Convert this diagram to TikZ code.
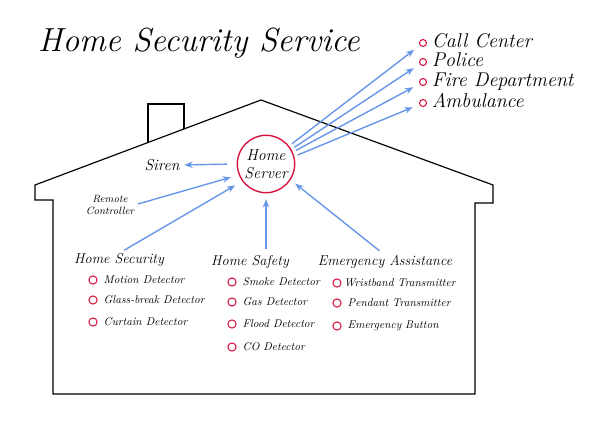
\documentclass[tikz,border=0pt]{standalone}
\usetikzlibrary{positioning,arrows.meta}
\definecolor{arrowblue}{RGB}{104,150,232}
\definecolor{ringred}{RGB}{214,22,64}
\begin{document}
\begin{tikzpicture}[x=0.03cm,y=-0.03cm,
    title/.style={font=\itshape\fontsize{28.5}{32}\selectfont, inner sep=0pt, anchor=west},
    service/.style={font=\itshape\fontsize{17}{19}\selectfont, inner sep=0pt, text height=10.5pt, text depth=2.5pt},
    head/.style={font=\itshape\fontsize{12.2}{14}\selectfont, inner sep=0pt},
    item/.style={font=\itshape\fontsize{9.6}{11}\selectfont, inner sep=0pt},
    dot/.style={circle, draw=ringred, line width=0.9pt, minimum size=7pt, inner sep=0pt},
    smalldot/.style={dot, minimum size=6pt},
    arr/.style={draw=arrowblue, line width=1.2pt, -{Stealth[length=7pt,width=5.5pt]}, shorten >=5pt, shorten <=3pt}]
    \useasboundingbox (0,0) rectangle (600,431);
    % house
    \draw[line width=1pt] (53,394) -- (53,200) -- (35,200) -- (35,185) -- (261,100)
        -- (493,185) -- (493,203) -- (475,203) -- (475,394) -- cycle;
    \draw[line width=1pt] (148,142.5) -- (148,104) -- (184,104) -- (184,129);
    \node[title] (ttl) at (38,43) {Home Security Service};
    % server
    \node[circle, draw=ringred, line width=1.2pt, minimum size=49pt, inner sep=0pt,
        align=center, font=\itshape\fontsize{13.5}{15}\selectfont] (srv) at (266,164) {Home\\Server};
    % services outside
    \node[smalldot] (cc) at (423,43) {};
    \node[smalldot] (pol) at (423,62) {};
    \node[smalldot] (fire) at (423,82) {};
    \node[smalldot] (amb) at (423,103) {};
    \node[service, right=4pt of cc] (cct) {Call Center};
    \node[service, right=4pt of pol] (polt) {Police};
    \node[service, right=4pt of fire] (firet) {Fire Department};
    \node[service, right=4pt of amb] (ambt) {Ambulance};
    \draw[arr, shorten >=6pt] (srv.38) -- (cc);
    \draw[arr, shorten >=6pt] (srv.30) -- (pol);
    \draw[arr, shorten >=6pt] (srv.24) -- (fire);
    \draw[arr, shorten >=6pt] (srv.15) -- (amb);
    % siren and remote
    \node[head, font=\itshape\fontsize{13.5}{15}\selectfont] (siren) at (162,165) {Siren};
    \draw[arr, shorten <=8pt, shorten >=4pt] (srv.west) -- (siren.east);
    \node[item, font=\itshape\fontsize{9}{9.5}\selectfont, align=center] (remote) at (110,205) {Remote\\Controller};
    \draw[arr, shorten >=7pt] (remote.east) -- (srv.202);
    % groups
    \node[head] (hsec) at (119,260) {Home Security};
    \node[head] (hsaf) at (250,262) {Home Safety};
    \node[head] (emer) at (385,262) {Emergency Assistance};
    \draw[arr, shorten >=7pt, shorten <=5pt] (hsec.north) -- (srv.216);
    \draw[arr, shorten <=5pt] (hsaf.north -| srv.south) -- (srv.south);
    \draw[arr, shorten <=6pt] (emer.north) -- (srv.327);
    % home security
    \node[dot] (sec1) at (93,280) {};
    \node[dot] (sec2) at (93,300) {};
    \node[dot] (sec3) at (93,322) {};
    \node[item, right=5pt of sec1] (sec1t) {Motion Detector};
    \node[item, right=5pt of sec2] (sec2t) {Glass-break Detector};
    \node[item, right=5pt of sec3] (sec3t) {Curtain Detector};
    % home safety
    \node[dot] (saf1) at (232,282) {};
    \node[dot] (saf2) at (232,302) {};
    \node[dot] (saf3) at (232,324) {};
    \node[dot] (saf4) at (232,347) {};
    \node[item, right=5pt of saf1] (saf1t) {Smoke Detector};
    \node[item, right=5pt of saf2] (saf2t) {Gas Detector};
    \node[item, right=5pt of saf3] (saf3t) {Flood Detector};
    \node[item, right=5pt of saf4] (saf4t) {CO Detector};
    % emergency assistance
    \node[dot] (em1) at (337,283) {};
    \node[dot] (em2) at (337,303) {};
    \node[dot] (em3) at (337,326) {};
    \node[item, right=2pt of em1] (em1t) {Wristband Transmitter};
    \node[item, right=5pt of em2] (em2t) {Pendant Transmitter};
    \node[item, right=5pt of em3] (em3t) {Emergency Button};
\end{tikzpicture}
\end{document}
